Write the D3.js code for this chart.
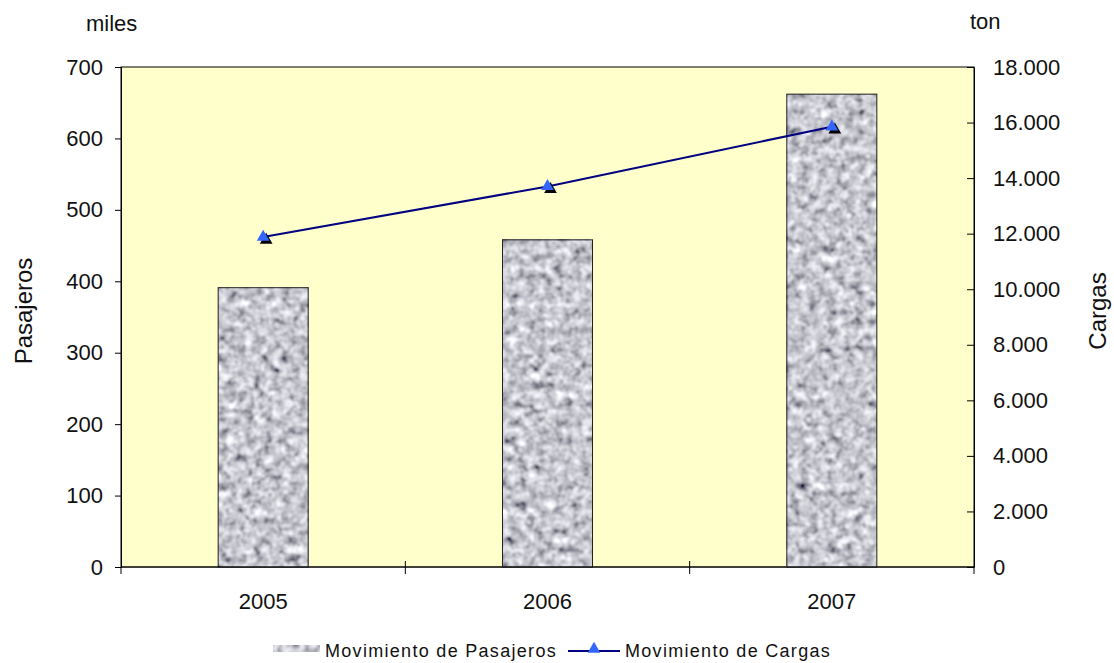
<!DOCTYPE html>
<html>
<head>
<meta charset="utf-8">
<script src="https://cdn.jsdelivr.net/npm/d3@7"></script>
<style>
  body { margin: 0; background: #fff; }
  text { font-family: "Liberation Sans", Arial, sans-serif; fill: #111; }
</style>
</head>
<body>
<div id="chart"></div>
<script>
const years = ['2005', '2006', '2007'];
const pasajeros = [391, 458, 662];          // miles
const cargas = [11880, 13700, 15850];       // ton
const leftTicks = [0, 100, 200, 300, 400, 500, 600, 700];
const rightTicks = [0, 2000, 4000, 6000, 8000, 10000, 12000, 14000, 16000, 18000];

const width = 1114, height = 663;
const area = { left: 121, right: 974, top: 67, bottom: 567 };

const svg = d3.select('#chart').append('svg')
  .attr('width', width).attr('height', height);

// granite texture for bars
const defs = svg.append('defs');
const filt = defs.append('filter').attr('id', 'granite')
  .attr('x', 0).attr('y', 0).attr('width', 1).attr('height', 1);
filt.append('feTurbulence').attr('type', 'fractalNoise')
  .attr('baseFrequency', 0.11).attr('numOctaves', 2).attr('seed', 4);
filt.append('feColorMatrix').attr('type', 'matrix')
  .attr('values', '0.33 0.33 0.33 0 0  0.33 0.33 0.33 0 0  0.33 0.33 0.34 0 0  0 0 0 0 1');
filt.append('feComponentTransfer').call(f => {
  f.append('feFuncR').attr('type', 'linear').attr('slope', 2.0).attr('intercept', -0.42);
  f.append('feFuncG').attr('type', 'linear').attr('slope', 2.0).attr('intercept', -0.42);
  f.append('feFuncB').attr('type', 'linear').attr('slope', 2.0).attr('intercept', -0.38);
});
filt.append('feGaussianBlur').attr('stdDeviation', 0.6);

const x = d3.scaleBand().domain(years).range([area.left, area.right]);
const yL = d3.scaleLinear().domain([0, 700]).range([area.bottom, area.top]);
const yR = d3.scaleLinear().domain([0, 18000]).range([area.bottom, area.top]);

// plot background
svg.append('rect')
  .attr('x', area.left).attr('y', area.top)
  .attr('width', area.right - area.left).attr('height', area.bottom - area.top)
  .attr('fill', '#ffffcc').attr('stroke', '#000').attr('stroke-width', 1);

// bars
const barW = 90;
svg.append('g').selectAll('g').data(years).join('g').each(function (d, i) {
  const g = d3.select(this);
  const bx = x(d) + x.bandwidth() / 2 - barW / 2;
  const by = yL(pasajeros[i]);
  g.append('rect').attr('x', bx).attr('y', by).attr('width', barW).attr('height', area.bottom - by)
    .attr('filter', 'url(#granite)');
  g.append('rect').attr('x', bx).attr('y', by).attr('width', barW).attr('height', area.bottom - by)
    .attr('fill', 'none').attr('stroke', '#222').attr('stroke-width', 1);
});

// axes
const fmtR = d => d === 0 ? '0' : d3.format(',')(d).replace(/,/g, '.');
const axL = svg.append('g').attr('transform', `translate(${area.left},0)`)
  .call(d3.axisLeft(yL).tickValues(leftTicks).tickSize(6).tickPadding(12));
const axR = svg.append('g').attr('transform', `translate(${area.right},0)`)
  .call(d3.axisRight(yR).tickValues(rightTicks).tickSize(0).tickPadding(19).tickFormat(fmtR));
axR.selectAll('.tick').append('line').attr('x1', -7).attr('x2', 0).attr('stroke', '#000');
const axB = svg.append('g').attr('transform', `translate(0,${area.bottom})`)
  .call(d3.axisBottom(x).tickSize(0).tickPadding(26));
axB.select('.domain').attr('d', `M${area.left},0H${area.right}`);
svg.append('g').selectAll('line').data([area.left, ...years.slice(1).map(d => x(d)), area.right]).join('line')
  .attr('x1', d => d).attr('x2', d => d)
  .attr('y1', (d, i) => (i === 0 || i === 3) ? area.bottom : area.bottom - 6)
  .attr('y2', area.bottom + 7)
  .attr('stroke', '#000');
[axL, axR, axB].forEach(a => {
  a.selectAll('text').attr('font-size', 22).attr('fill', '#111')
    .attr('font-family', '"Liberation Sans", Arial, sans-serif');
  a.selectAll('.domain, line').attr('stroke', '#000');
});

// line series
const line = d3.line().x((d, i) => x(years[i]) + x.bandwidth() / 2).y(d => yR(d));
svg.append('path').datum(cargas).attr('d', line)
  .attr('fill', 'none').attr('stroke', '#000080').attr('stroke-width', 2);
const tri = d3.symbol().type(d3.symbolTriangle).size(70);
const markers = svg.append('g').selectAll('g').data(cargas).join('g')
  .attr('transform', (d, i) => `translate(${x(years[i]) + x.bandwidth() / 2},${yR(d)})`);
markers.append('path').attr('d', tri).attr('fill', '#000').attr('transform', 'translate(3,3)');
markers.append('path').attr('d', tri).attr('fill', '#3366ff');

// axis titles
svg.append('text').attr('x', 86).attr('y', 31).attr('font-size', 22).text('miles');
svg.append('text').attr('x', 970).attr('y', 29).attr('font-size', 22).text('ton');
svg.append('text').attr('transform', 'translate(32,311) rotate(-90)')
  .attr('text-anchor', 'middle').attr('font-size', 24).text('Pasajeros');
svg.append('text').attr('transform', 'translate(1106,311) rotate(-90)')
  .attr('text-anchor', 'middle').attr('font-size', 24).text('Cargas');

// legend
const lg = svg.append('g');
lg.append('rect').attr('x', 273).attr('y', 645).attr('width', 47).attr('height', 7)
  .attr('filter', 'url(#granite)');
lg.append('text').attr('x', 325).attr('y', 657).attr('font-size', 18).attr('letter-spacing', 1.3)
  .attr('font-family', '"DejaVu Sans", Verdana, sans-serif')
  .text('Movimiento de Pasajeros');
lg.append('line').attr('x1', 568).attr('x2', 620).attr('y1', 651).attr('y2', 651)
  .attr('stroke', '#000080').attr('stroke-width', 2);
lg.append('path').attr('d', d3.symbol().type(d3.symbolTriangle).size(70))
  .attr('transform', 'translate(594,649)').attr('fill', '#3366ff');
lg.append('text').attr('x', 625).attr('y', 657).attr('font-size', 18).attr('letter-spacing', 1.3)
  .attr('font-family', '"DejaVu Sans", Verdana, sans-serif')
  .text('Movimiento de Cargas');
</script>
</body>
</html>
